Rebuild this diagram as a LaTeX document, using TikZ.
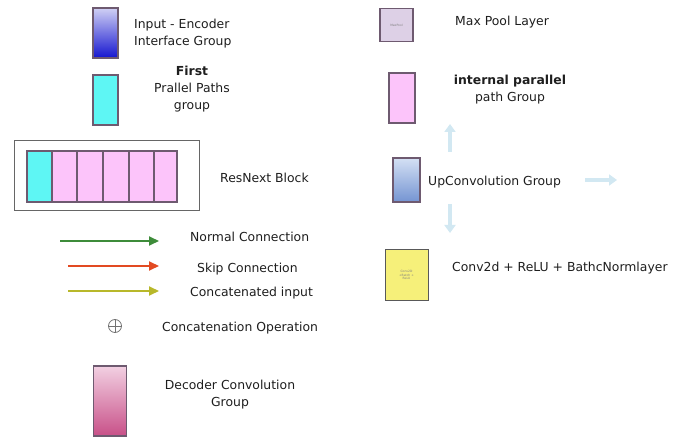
\documentclass[tikz,border=0pt]{standalone}
\usepackage{fontspec}
\setmainfont{DejaVu Sans}
\usetikzlibrary{arrows.meta}
\definecolor{txt}{HTML}{1E1E1E}
\definecolor{edge}{HTML}{6E5A70}
\definecolor{cyanf}{HTML}{5EF6F4}
\definecolor{pinkf}{HTML}{FCC4FA}
\definecolor{lavf}{HTML}{DDD0E6}
\definecolor{yelf}{HTML}{F6F07A}
\definecolor{gline}{HTML}{3E8C3A}
\definecolor{rline}{HTML}{E24A22}
\definecolor{yline}{HTML}{B8B82A}
\definecolor{faint}{HTML}{D2E8F2}
\definecolor{intop}{HTML}{D0D0F4}
\definecolor{inbot}{HTML}{1515D0}
\definecolor{dectop}{HTML}{F2D0E2}
\definecolor{decbot}{HTML}{C85088}
\definecolor{uptop}{HTML}{D4E0F4}
\definecolor{upbot}{HTML}{7494D2}
\begin{document}
\begin{tikzpicture}[x=1pt,y=-1pt,
  legbox/.style={draw=edge,line width=1.2pt,rectangle,inner sep=0pt},
  lbl/.style={text=txt,font=\fontsize{12.4}{17}\selectfont,inner sep=0pt,align=center},
  conn/.style={line width=2pt,-{Triangle[length=10pt,width=9pt]}},
  fade/.style={draw=faint,line width=4pt,-{Triangle[length=8pt,width=11pt]}},
  tiny/.style={font=\fontsize{3}{3.5}\selectfont,text=gray,align=center,inner sep=0pt}]
\useasboundingbox (0,0) rectangle (685,438);

% Input - Encoder interface group
\node[legbox,minimum width=25pt,minimum height=50pt,top color=intop,bottom color=inbot] (inenc) at (105.5,33) {};
\node[lbl,align=left,anchor=west] (inenct) at (134,33.5) {Input - Encoder\\Interface Group};

% First parallel paths group
\node[legbox,fill=cyanf,minimum width=25pt,minimum height=50pt] (first) at (105.5,100) {};
\node[lbl] (firstt) at (192,89) {\textbf{First}\\Prallel Paths\\group};

% ResNext block
\node[draw=gray!80!black,line width=1pt,minimum width=185pt,minimum height=70pt,inner sep=0pt] (resnext) at (106.5,176) {};
\node[legbox,fill=cyanf,minimum width=25pt,minimum height=51pt] (c0) at (39.5,176.5) {};
\node[legbox,fill=pinkf,minimum width=25pt,minimum height=51pt] (c1) at (64.5,176.5) {};
\node[legbox,fill=pinkf,minimum width=26pt,minimum height=51pt] (c2) at (90,176.5) {};
\node[legbox,fill=pinkf,minimum width=26pt,minimum height=51pt] (c3) at (116,176.5) {};
\node[legbox,fill=pinkf,minimum width=25pt,minimum height=51pt] (c4) at (141.5,176.5) {};
\node[legbox,fill=pinkf,minimum width=23pt,minimum height=51pt] (c5) at (165.5,176.5) {};
\node[lbl,anchor=west] (resnextt) at (220,178) {ResNext Block};

% Connections legend
\coordinate (g1) at (60,241); \coordinate (g2) at (159,241);
\draw[conn,gline] (g1) -- (g2);
\node[lbl,anchor=west] (gt) at (190,237) {Normal Connection};
\coordinate (r1) at (68,266); \coordinate (r2) at (159,266);
\draw[conn,rline] (r1) -- (r2);
\node[lbl,anchor=west] (rt) at (197,269) {Skip Connection};
\coordinate (y1) at (68,291); \coordinate (y2) at (159,291);
\draw[conn,yline] (y1) -- (y2);
\node[lbl,anchor=west] (yt) at (190,293) {Concatenated input};

% Concatenation operation
\node[draw=gray!90!black,line width=0.8pt,circle,minimum size=13pt,inner sep=0pt] (plus) at (115,326) {};
\draw[gray!90!black,line width=0.8pt] (plus.north) -- (plus.south) (plus.west) -- (plus.east);
\node[lbl,anchor=west] (plust) at (162,328) {Concatenation Operation};

% Decoder convolution group
\node[legbox,minimum width=33pt,minimum height=70pt,top color=dectop,bottom color=decbot] (dec) at (110,401) {};
\node[lbl] (dect) at (230,394.5) {Decoder Convolution\\Group};

% Max pool layer
\node[legbox,fill=lavf,minimum width=33pt,minimum height=33pt] (maxp) at (396.5,25) {};
\node[tiny] at (maxp) {MaxPool};
\node[lbl,anchor=west] (maxpt) at (455,22) {Max Pool Layer};

% Internal parallel path group
\node[legbox,fill=pinkf,minimum width=26pt,minimum height=50pt] (ipp) at (402,98) {};
\node[lbl] (ippt) at (510,89.5) {\textbf{internal parallel}\\path Group};

% UpConvolution group
\node[legbox,minimum width=27pt,minimum height=44pt,top color=uptop,bottom color=upbot] (upc) at (406.5,180) {};
\node[lbl,anchor=west] (upct) at (428,182) {UpConvolution Group};
\coordinate (u1) at (450,152); \coordinate (u2) at (450,124);
\draw[fade] (u1) -- (u2);
\coordinate (d1) at (450,204); \coordinate (d2) at (450,233);
\draw[fade] (d1) -- (d2);
\coordinate (h1) at (585,180); \coordinate (h2) at (617,180);
\draw[fade] (h1) -- (h2);

% Conv2d + ReLU + BatchNorm
\node[draw=gray!70!black,line width=1pt,fill=yelf,minimum width=43pt,minimum height=50pt,inner sep=0pt] (conv) at (406.5,275) {};
\node[tiny] at (conv) {Conv2D\\+Batch +\\ReLU};
\node[lbl,anchor=west] (convt) at (452,268) {Conv2d + ReLU + BathcNormlayer};
\end{tikzpicture}
\end{document}
